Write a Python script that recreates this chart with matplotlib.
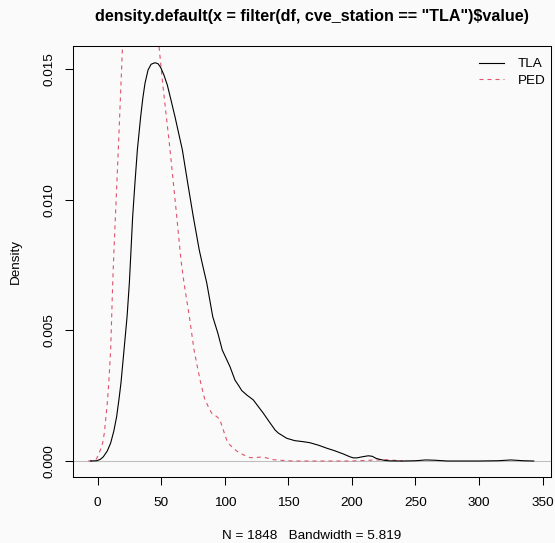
import numpy as np
import matplotlib
matplotlib.use("Agg")
import matplotlib.pyplot as plt

# density estimates (x in units of value, y = density)
tla_x = [-5.6, -0.8, 2.0, 4.4, 7.5, 10.2, 12.7, 14.9, 16.7, 18.3, 20.7, 23.1, 24.9,
         26.2, 27.5, 29.3, 31.2, 33.8, 35.5, 37.2, 39.6, 42.0, 45.1, 47.5, 49.5,
         52.0, 54.8, 57.8, 60.8, 66.6, 70.8, 75.2, 79.9, 82.8, 85.8, 90.5, 94.5,
         98.0, 104.1, 108.0, 111.4, 113.3, 117.5, 122.4, 130.3, 135.0, 139.5, 142.1,
         148.7, 155.0, 161.7, 167.0, 174.0, 180.2, 186.0, 193.2, 198.5, 201.1, 204.0,
         208.0, 212.9, 216.0, 219.0, 222.1, 226.0, 230.0, 240.0, 250.0, 258.0, 265.0,
         275.0, 300.0, 315.0, 325.0, 335.0, 343.0]
tla_y = [0.0, 0.00001, 0.00006, 0.00016, 0.00038, 0.00069, 0.00115, 0.0017, 0.00235,
         0.00299, 0.00425, 0.00553, 0.00682, 0.00808, 0.00936, 0.01065, 0.01192,
         0.01319, 0.0139, 0.01447, 0.01498, 0.0152, 0.01526, 0.01522, 0.01508,
         0.0148, 0.01440, 0.0138, 0.01319, 0.01192, 0.01065, 0.00936, 0.00808,
         0.00745, 0.00682, 0.00553, 0.0049, 0.00425, 0.00361, 0.0031, 0.00285,
         0.0027, 0.00252, 0.00234, 0.00183, 0.0015, 0.00119, 0.00107, 0.00087,
         0.00078, 0.00074, 0.0007, 0.0006, 0.00049, 0.0004, 0.00027, 0.00016,
         0.00012, 0.00012, 0.00016, 0.0002, 0.00018, 0.0001, 0.00006, 0.00002,
         0.000005, 0.0, 0.00001, 0.00004, 0.00003, 0.0, 0.0, 0.00001, 0.00004,
         0.00001, 0.0]

ped_x = [-7.5, -3.5, -1.0, 0.5, 2.3, 3.9, 5.3, 6.5, 7.7, 8.7, 10.2, 11.0, 11.8, 12.8,
         14.5, 16.2, 19.4, 23.0, 27.0, 31.0, 35.0, 40.0, 44.5, 48.5, 51.1, 56.9,
         62.2, 65.5, 67.9, 72.1, 75.8, 78.0, 81.0, 84.0, 87.0, 89.7, 93.1, 96.0,
         98.8, 101.5, 104.1, 109.4, 112.0, 117.2, 119.8, 124.0, 128.0, 132.0,
         138.1, 146.0, 153.9, 200.0, 214.0, 227.4, 235.0, 240.0]
ped_y = [0.0, 0.00001, 0.00008, 0.00023, 0.00045, 0.00069, 0.0011, 0.0017, 0.0023,
         0.00299, 0.00425, 0.00553, 0.00682, 0.00808, 0.01, 0.01192, 0.01575,
         0.0198, 0.0225, 0.0235, 0.0228, 0.0205, 0.0178, 0.01575, 0.01447, 0.01192,
         0.00936, 0.0077, 0.00682, 0.00553, 0.00425, 0.0037, 0.003, 0.0024,
         0.00208, 0.00183, 0.00172, 0.0016, 0.00119, 0.0008, 0.00061, 0.00038,
         0.0003, 0.00018, 0.00013, 0.00013, 0.00015, 0.00013, 0.00005, 0.00002,
         0.0, 0.0, 0.00003, 0.00005, 0.00002, 0.0]

x_ticks = [0, 50, 100, 150, 200, 250, 300, 350]
y_ticks = [0.000, 0.005, 0.010, 0.015]
title = 'density.default(x = filter(df, cve_station == "TLA")$value)'
xlab = "N = 1848   Bandwidth = 5.819"

plt.rcParams["font.family"] = ["Liberation Sans", "DejaVu Sans"]
bg = "#fafafa"
ped_col = "#DF536B"
fs = 9.7  # base text size, title is 1.2x

fig = plt.figure(figsize=(5.55, 5.43), dpi=100, facecolor=bg)
ax = fig.add_axes([73 / 555, 66 / 543, 478 / 555, 431 / 543], facecolor=bg)

ax.axhline(0, color="#bebebe", lw=0.75, zorder=1)
ax.plot(tla_x, tla_y, color="black", lw=0.8, label="TLA", zorder=3)
ax.plot(ped_x, ped_y, color=ped_col, lw=0.8, dashes=(3.6, 3.6), label="PED", zorder=2)

ax.set_xlim(-19.43, 356.6)
ax.set_ylim(-0.000613, 0.0159)
ax.set_xticks(x_ticks)
ax.set_xticklabels([str(v) for v in x_ticks])
ax.set_yticks(y_ticks)
ax.set_yticklabels([f"{v:.3f}" for v in y_ticks], rotation=90, va="center")
ax.tick_params(length=5.8, width=0.75, labelsize=fs, color="black")
ax.tick_params(axis="x", pad=8.3)
ax.tick_params(axis="y", pad=6.5)

for s in ax.spines.values():
    s.set_color("black"); s.set_linewidth(0.75)

fig.text((73 + 478 / 2) / 555, (543 - 16) / 543, title, fontsize=fs * 1.2,
         fontweight="bold", ha="center", va="center")

ax.set_xlabel(xlab, fontsize=fs)
ax.xaxis.set_label_coords(0.5, (477 - 536) / 431)
ax.xaxis.label.set_va("center")
ax.set_ylabel("Density", fontsize=fs)
ax.yaxis.set_label_coords((15.5 - 73) / 478, 0.5)
ax.yaxis.label.set_va("center")

ax.legend(loc="upper left", bbox_to_anchor=(479 / 555, 1 - 58 / 543),
          bbox_transform=fig.transFigure, frameon=False, fontsize=fs,
          handlelength=1.85, handletextpad=1.05, labelspacing=0.3,
          borderpad=0, borderaxespad=0)

fig.savefig("out.png", dpi=100, facecolor=bg)
